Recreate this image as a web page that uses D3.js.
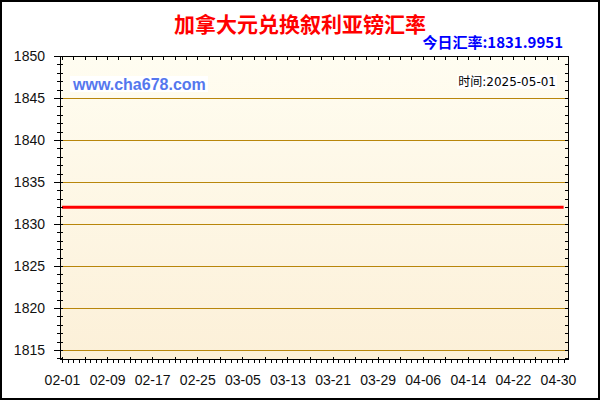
<!DOCTYPE html>
<html>
<head>
<meta charset="utf-8">
<script src="https://cdn.jsdelivr.net/npm/d3@7"></script>
<style>
body{margin:0;background:#fff;}
.axis path{display:none;}
.axis line{stroke:#000;}
.axis text{font-family:"Liberation Sans",Arial,sans-serif;font-size:14px;fill:#111;}
</style>
</head>
<body>
<svg class="chart" width="600" height="400"></svg>
<script>
// data
var title = "加拿大元兑换叙利亚镑汇率";
var todayLabel = "今日汇率:1831.9951";
var timeLabel = "时间:2025-05-01";
var site = "www.cha678.com";
var dates = ["2025-02-01","2025-02-09","2025-02-17","2025-02-25","2025-03-05","2025-03-13","2025-03-21","2025-03-29","2025-04-06","2025-04-14","2025-04-22","2025-04-30","2025-05-01"];
var rates = [1831.9951,1831.9951,1831.9951,1831.9951,1831.9951,1831.9951,1831.9951,1831.9951,1831.9951,1831.9951,1831.9951,1831.9951,1831.9951];
var yTicks = [1815,1820,1825,1830,1835,1840,1845,1850];
var xTickLabels = ["2025-02-01","2025-02-09","2025-02-17","2025-02-25","2025-03-05","2025-03-13","2025-03-21","2025-03-29","2025-04-06","2025-04-14","2025-04-22","2025-04-30"];

var parse = d3.timeParse("%Y-%m-%d");
var pLeft=60, pRight=568, pTop=56, pBottom=359;

var scaleX = d3.scaleTime()
	.domain([parse("2025-02-01"), parse("2025-04-30")])
	.range([62, 558]);
var scaleY = d3.scaleLinear()
	.domain([1813.93, 1850])
	.range([pBottom, pTop]);

function py(d){return Math.round(scaleY(d))+0.5;}
function px(d){return Math.round(scaleX(d))+0.5;}

var svg = d3.select(".chart");

var defs = svg.append("defs");
var grad = defs.append("linearGradient").attr("id","bg").attr("x1",0).attr("y1",0).attr("x2",0).attr("y2",1);
grad.append("stop").attr("offset","0%").attr("stop-color","#fffdf1");
grad.append("stop").attr("offset","100%").attr("stop-color","#fcf0d8");

// outer frame
svg.append("rect").attr("x",1).attr("y",1).attr("width",598).attr("height",398)
	.style("fill","#fff").style("stroke","#000").style("stroke-width",2);

// plot background
svg.append("rect").attr("x",pLeft).attr("y",pTop).attr("width",pRight-pLeft).attr("height",pBottom-pTop)
	.style("fill","url(#bg)");

// grid
svg.selectAll(".grid")
	.data(yTicks)
	.enter()
	.append("line")
	.attr("class","grid")
	.attr("x1",pLeft).attr("x2",pRight)
	.attr("y1",py).attr("y2",py)
	.style("stroke","#b8860b").style("stroke-width",1);

// rate line
var pts = dates.map(function(d,i){return {date:parse(d), rate:rates[i]};});
var line = d3.line()
	.x(function(d){return scaleX(d.date);})
	.y(function(d){return scaleY(d.rate);});
svg.append("path").datum(pts)
	.attr("d",line)
	.style("fill","none").style("stroke","#ff0000").style("stroke-width",3);

// frame lines
svg.append("rect").attr("x",pLeft+0.5).attr("y",pTop+0.5).attr("width",pRight-pLeft).attr("height",pBottom-pTop)
	.style("fill","none").style("stroke","#000").style("stroke-width",1);

// y axis (left) minor & major ticks
var yMinor = d3.range(1814,1851);
svg.selectAll(".ymin").data(yMinor).enter().append("line")
	.attr("x1",pLeft-3).attr("x2",pLeft+3)
	.attr("y1",py).attr("y2",py)
	.style("stroke","#000");
var yAx = svg.append("g")
	.attr("class","axis")
	.attr("transform","translate("+(pLeft+3)+",0)")
	.call(d3.axisLeft(scaleY).tickValues(yTicks).tickSize(9).tickPadding(9).tickFormat(d3.format("d")));
yAx.selectAll(".tick").attr("transform",function(d){return "translate(0,"+py(d)+")";});

// right axis ticks
svg.selectAll(".ymr").data(yMinor).enter().append("line")
	.attr("x1",pRight-3).attr("x2",pRight+0.5)
	.attr("y1",py).attr("y2",py)
	.style("stroke","#000");

// x axis ticks: every day, longer every 4 days
var days = d3.timeDay.range(parse("2025-02-01"), parse("2025-05-02"));
svg.selectAll(".xmin").data(days).enter().append("line")
	.attr("x1",px).attr("x2",px)
	.attr("y1",function(d,i){return i%4==0 ? pBottom-2 : pBottom;})
	.attr("y2",pBottom+4)
	.style("stroke","#000");
// top ticks
svg.selectAll(".xtop").data(days.filter(function(d,i){return i%2==0;})).enter().append("line")
	.attr("x1",px).attr("x2",px)
	.attr("y1",pTop).attr("y2",pTop+4)
	.style("stroke","#000");

svg.append("g")
	.attr("class","axis")
	.attr("transform","translate(0,"+pBottom+")")
	.call(d3.axisBottom(scaleX).tickValues(xTickLabels.map(parse)).tickSize(0).tickPadding(16).tickFormat(d3.timeFormat("%m-%d")));

// title
svg.append("text").attr("x",300).attr("y",32)
	.attr("text-anchor","middle")
	.style("font-family","'Noto Sans CJK SC',sans-serif").style("font-weight","bold").style("font-size","21px")
	.style("fill","#ff0000")
	.text(title);

svg.append("text").attr("x",563).attr("y",48)
	.attr("text-anchor","end")
	.style("font-family","'Noto Sans CJK SC','Liberation Sans',sans-serif").style("font-weight","bold").style("font-size","15px")
	.style("fill","#0000ff")
	.text(todayLabel);

// watermark
svg.append("rect").attr("x",70).attr("y",76).attr("width",138).attr("height",16).style("fill","#fff");
svg.append("text").attr("x",73).attr("y",90)
	.style("font-family","'Liberation Sans',Arial,sans-serif").style("font-weight","bold").style("font-size","16px")
	.style("fill","#5577ee")
	.text(site);

// time label
var tg = svg.append("g");
var tbg = tg.append("rect").style("fill","#fff");
var tt = tg.append("text").attr("x",556).attr("y",86)
	.attr("text-anchor","end")
	.style("font-family","'DejaVu Sans','Noto Sans CJK SC',sans-serif").style("font-size","12px")
	.style("fill","#000")
	.text(timeLabel);
var bb = tt.node().getBBox();
tbg.attr("x",bb.x-1).attr("y",bb.y).attr("width",bb.width+2).attr("height",bb.height);
</script>
</body>
</html>
